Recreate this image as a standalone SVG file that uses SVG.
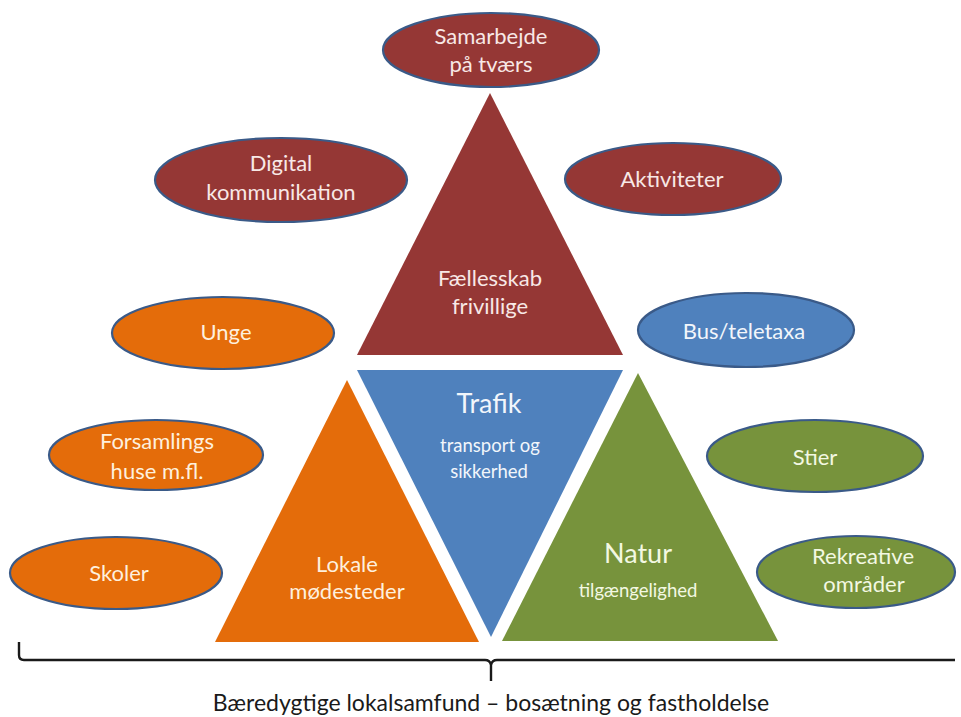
<svg xmlns="http://www.w3.org/2000/svg" width="961" height="717" viewBox="0 0 961 717">
<style>
text{font-family:Lato,"Open Sans","Liberation Sans",sans-serif;text-anchor:middle}
.ell{stroke:#3A5A88;stroke-width:2.2}
.red{fill:#953735}.org{fill:#E46C0A}.blu{fill:#4F81BD}.grn{fill:#77933C}
.t{font-size:22px}
.tr{fill:#F8E8E6}.to{fill:#FEF0DE}.tb{fill:#F2F6FB}.tg{fill:#F3F8E2}
.big{font-size:27px}.sm{font-size:18.5px}
</style>
<rect width="961" height="717" fill="#FFFFFF"/>

<g id="connectors">
<path d="M19 642 L19 655 Q19 660 24 660 L485 660 Q490 660 491 665 L491 681 M491 665 Q492 660 497 660 L955 660" fill="none" stroke="#1A1A1A" stroke-width="2.4"/>
</g>

<g id="tri-faellesskab">
<polygon class="red" points="490,93 623,355 357,355"/>
<text class="t tr" x="490" y="286">Fællesskab</text>
<text class="t tr" x="490" y="314">frivillige</text>
</g>
<g id="tri-trafik">
<polygon class="blu" points="357,370 623,370 491,637"/>
<text class="big tb" x="489" y="413">Trafik</text>
<text class="sm tb" x="490" y="452">transport og</text>
<text class="sm tb" x="489" y="478">sikkerhed</text>
</g>
<g id="tri-lokale">
<polygon class="org" points="347,380 479,642 215,642"/>
<text class="t to" x="347" y="572">Lokale</text>
<text class="t to" x="347" y="599">mødesteder</text>
</g>
<g id="tri-natur">
<polygon class="grn" points="638,373 778,641 502,641"/>
<text class="big tg" x="638" y="563">Natur</text>
<text class="sm tg" x="638" y="597">tilgængelighed</text>
</g>

<g id="ell-samarbejde">
<ellipse class="ell red" cx="491" cy="50" rx="108" ry="37"/>
<text class="t tr" x="491" y="44">Samarbejde</text>
<text class="t tr" x="491" y="72">på tværs</text>
</g>
<g id="ell-digital">
<ellipse class="ell red" cx="281" cy="180" rx="126" ry="42"/>
<text class="t tr" x="281" y="171">Digital</text>
<text class="t tr" x="281" y="200">kommunikation</text>
</g>
<g id="ell-aktiviteter">
<ellipse class="ell red" cx="673" cy="179" rx="108" ry="36"/>
<text class="t tr" x="672" y="187">Aktiviteter</text>
</g>
<g id="ell-unge">
<ellipse class="ell org" cx="223" cy="333" rx="111" ry="36"/>
<text class="t to" x="226" y="340">Unge</text>
</g>
<g id="ell-bus">
<ellipse class="ell blu" cx="746" cy="330" rx="108" ry="37"/>
<text class="t tb" x="744" y="339">Bus/teletaxa</text>
</g>
<g id="ell-forsamlings">
<ellipse class="ell org" cx="156" cy="455" rx="107" ry="35"/>
<text class="t to" x="157" y="449">Forsamlings</text>
<text class="t to" x="157" y="479">huse m.fl.</text>
</g>
<g id="ell-stier">
<ellipse class="ell grn" cx="815" cy="456" rx="108" ry="36"/>
<text class="t tg" x="815" y="465">Stier</text>
</g>
<g id="ell-skoler">
<ellipse class="ell org" cx="116" cy="573" rx="106" ry="36"/>
<text class="t to" x="119" y="581">Skoler</text>
</g>
<g id="ell-rekreative">
<ellipse class="ell grn" cx="856" cy="572" rx="99" ry="36"/>
<text class="t tg" x="863" y="564">Rekreative</text>
<text class="t tg" x="864" y="592">områder</text>
</g>

<g id="caption">
<text x="491" y="711" font-size="23" fill="#1A1A1A">Bæredygtige lokalsamfund – bosætning og fastholdelse</text>
</g>
</svg>
